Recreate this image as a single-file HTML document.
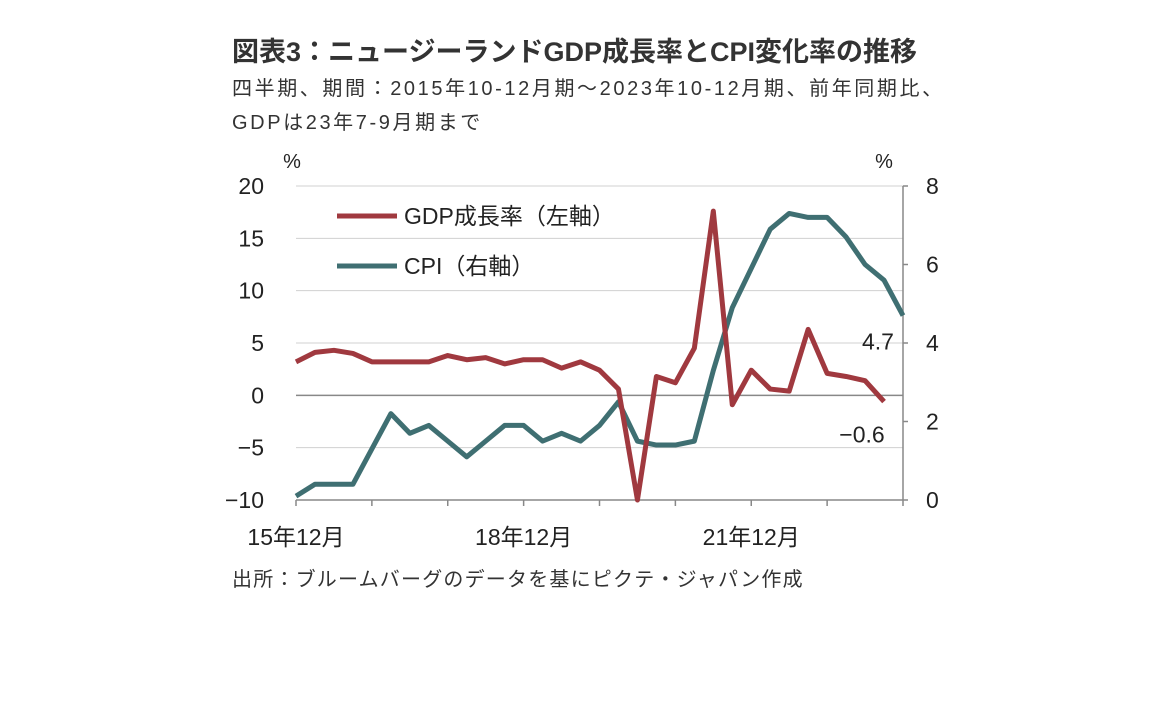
<!DOCTYPE html>
<html><head><meta charset="utf-8">
<style>
body{margin:0;background:#fff;width:1152px;height:720px;overflow:hidden;font-family:"Liberation Sans","Noto Sans CJK JP",sans-serif;color:#222}
.t{position:absolute;white-space:nowrap}
</style></head><body>
<div class="t" style="left:232px;top:30px;font-size:27px;font-weight:bold;color:#333">図表3：ニュージーランドGDP成長率とCPI変化率の推移</div>
<div class="t" style="left:232px;top:72px;font-size:20px;letter-spacing:2.6px;line-height:34px;color:#333">四半期、期間：2015年10-12月期～2023年10-12月期、前年同期比、<br>GDPは23年7-9月期まで</div>
<svg width="1152" height="720" style="position:absolute;left:0;top:0">
<g id="grid"></g><g id="axes"></g><g id="series"></g>
</svg>
<div class="t" style="left:232px;top:563px;font-size:20px;letter-spacing:1.2px;color:#333">出所：ブルームバーグのデータを基にピクテ・ジャパン作成</div>
<script>
const gdp=[3.2,4.1,4.3,4.0,3.2,3.2,3.2,3.2,3.8,3.4,3.6,3.0,3.4,3.4,2.6,3.2,2.4,0.6,-10,1.8,1.2,4.5,17.6,-0.9,2.4,0.6,0.4,6.3,2.1,1.8,1.4,-0.6];
const cpi=[0.1,0.4,0.4,0.4,1.3,2.2,1.7,1.9,1.5,1.1,1.5,1.9,1.9,1.5,1.7,1.5,1.9,2.5,1.5,1.4,1.4,1.5,3.3,4.9,5.9,6.9,7.3,7.2,7.2,6.7,6.0,5.6,4.7];
const leftTicks=[20,15,10,5,0,-5,-10];
const rightTicks=[8,6,4,2,0];
const xLabels=["15年12月","18年12月","21年12月"];
const xLabelIdx=[0,12,24];
const X0=296,X1=903,N=33;
const x=i=>X0+i*(X1-X0)/(N-1);
const yL=v=>395-v*(500-186)/30+0.33;
const yR=v=>500-v*(500-186)/8;
const NS="http://www.w3.org/2000/svg";
function mk(p,tag,a,txt){const e=document.createElementNS(NS,tag);for(const k in a)e.setAttribute(k,a[k]);if(txt!=null)e.textContent=txt;document.getElementById(p).appendChild(e);return e;}
const F='"Liberation Sans","Noto Sans CJK JP",sans-serif';
leftTicks.forEach(v=>{
 if(v!==0&&v!==-10){const g=mk('grid','line',{x1:X0,x2:X1,y1:yL(v),y2:yL(v),stroke:'#d0d0d0','stroke-width':1});}
 const t=mk('axes','text',{x:264,y:yL(v)+8,'text-anchor':'end','font-size':23,'font-family':F,fill:'#222'},v<0?'−'+(-v):String(v));
 
});
mk('axes','line',{x1:X0,x2:X1,y1:yL(0),y2:yL(0),stroke:'#888','stroke-width':1.5});
rightTicks.forEach(v=>{
 const t=mk('axes','text',{x:926,y:yR(v)+8,'font-size':23,'font-family':F,fill:'#222'},String(v));
 
 mk('axes','line',{x1:X1,x2:X1+5,y1:yR(v),y2:yR(v),stroke:'#888','stroke-width':1.5});
});
mk('axes','line',{x1:X1,x2:X1,y1:186,y2:500,stroke:'#888','stroke-width':1.5});
mk('axes','line',{x1:X0,x2:X1,y1:500,y2:500,stroke:'#888','stroke-width':1.5});
for(let i=0;i<N;i+=4){mk('axes','line',{x1:x(i),x2:x(i),y1:500,y2:506,stroke:'#888','stroke-width':1.5});}
xLabels.forEach((l,k)=>{const t=mk('axes','text',{x:x(xLabelIdx[k]),y:545,'text-anchor':'middle','font-size':23,'font-family':F,fill:'#222'},l);});
mk('axes','text',{x:292,y:168,'text-anchor':'middle','font-size':20,'font-family':F,fill:'#222'},'%');
mk('axes','text',{x:884,y:168,'text-anchor':'middle','font-size':20,'font-family':F,fill:'#222'},'%');
const c=mk('series','polyline',{points:cpi.map((v,i)=>x(i)+','+yR(v)).join(' '),fill:'none',stroke:'#3f6f72','stroke-width':5,'stroke-linejoin':'round'});

const g=mk('series','polyline',{points:gdp.map((v,i)=>x(i)+','+yL(v)).join(' '),fill:'none',stroke:'#a0393f','stroke-width':5,'stroke-linejoin':'round'});

const lc=mk('series','text',{x:878,y:yR(cpi[N-1])+34,'text-anchor':'middle','font-size':23,'font-family':F,fill:'#222'},String(cpi[N-1]));

const lg=mk('series','text',{x:862,y:yL(gdp[gdp.length-1])+41,'text-anchor':'middle','font-size':23,'font-family':F,fill:'#222'},'−'+(-gdp[gdp.length-1]));

const l1=mk('series','line',{x1:337,x2:397,y1:216,y2:216,stroke:'#a0393f','stroke-width':5});

mk('series','text',{x:404,y:224,'font-size':23,'font-family':F,fill:'#222'},'GDP成長率（左軸）');
const l2=mk('series','line',{x1:337,x2:397,y1:266,y2:266,stroke:'#3f6f72','stroke-width':5});

mk('series','text',{x:404,y:274,'font-size':23,'font-family':F,fill:'#222'},'CPI（右軸）');
</script>
</body></html>
